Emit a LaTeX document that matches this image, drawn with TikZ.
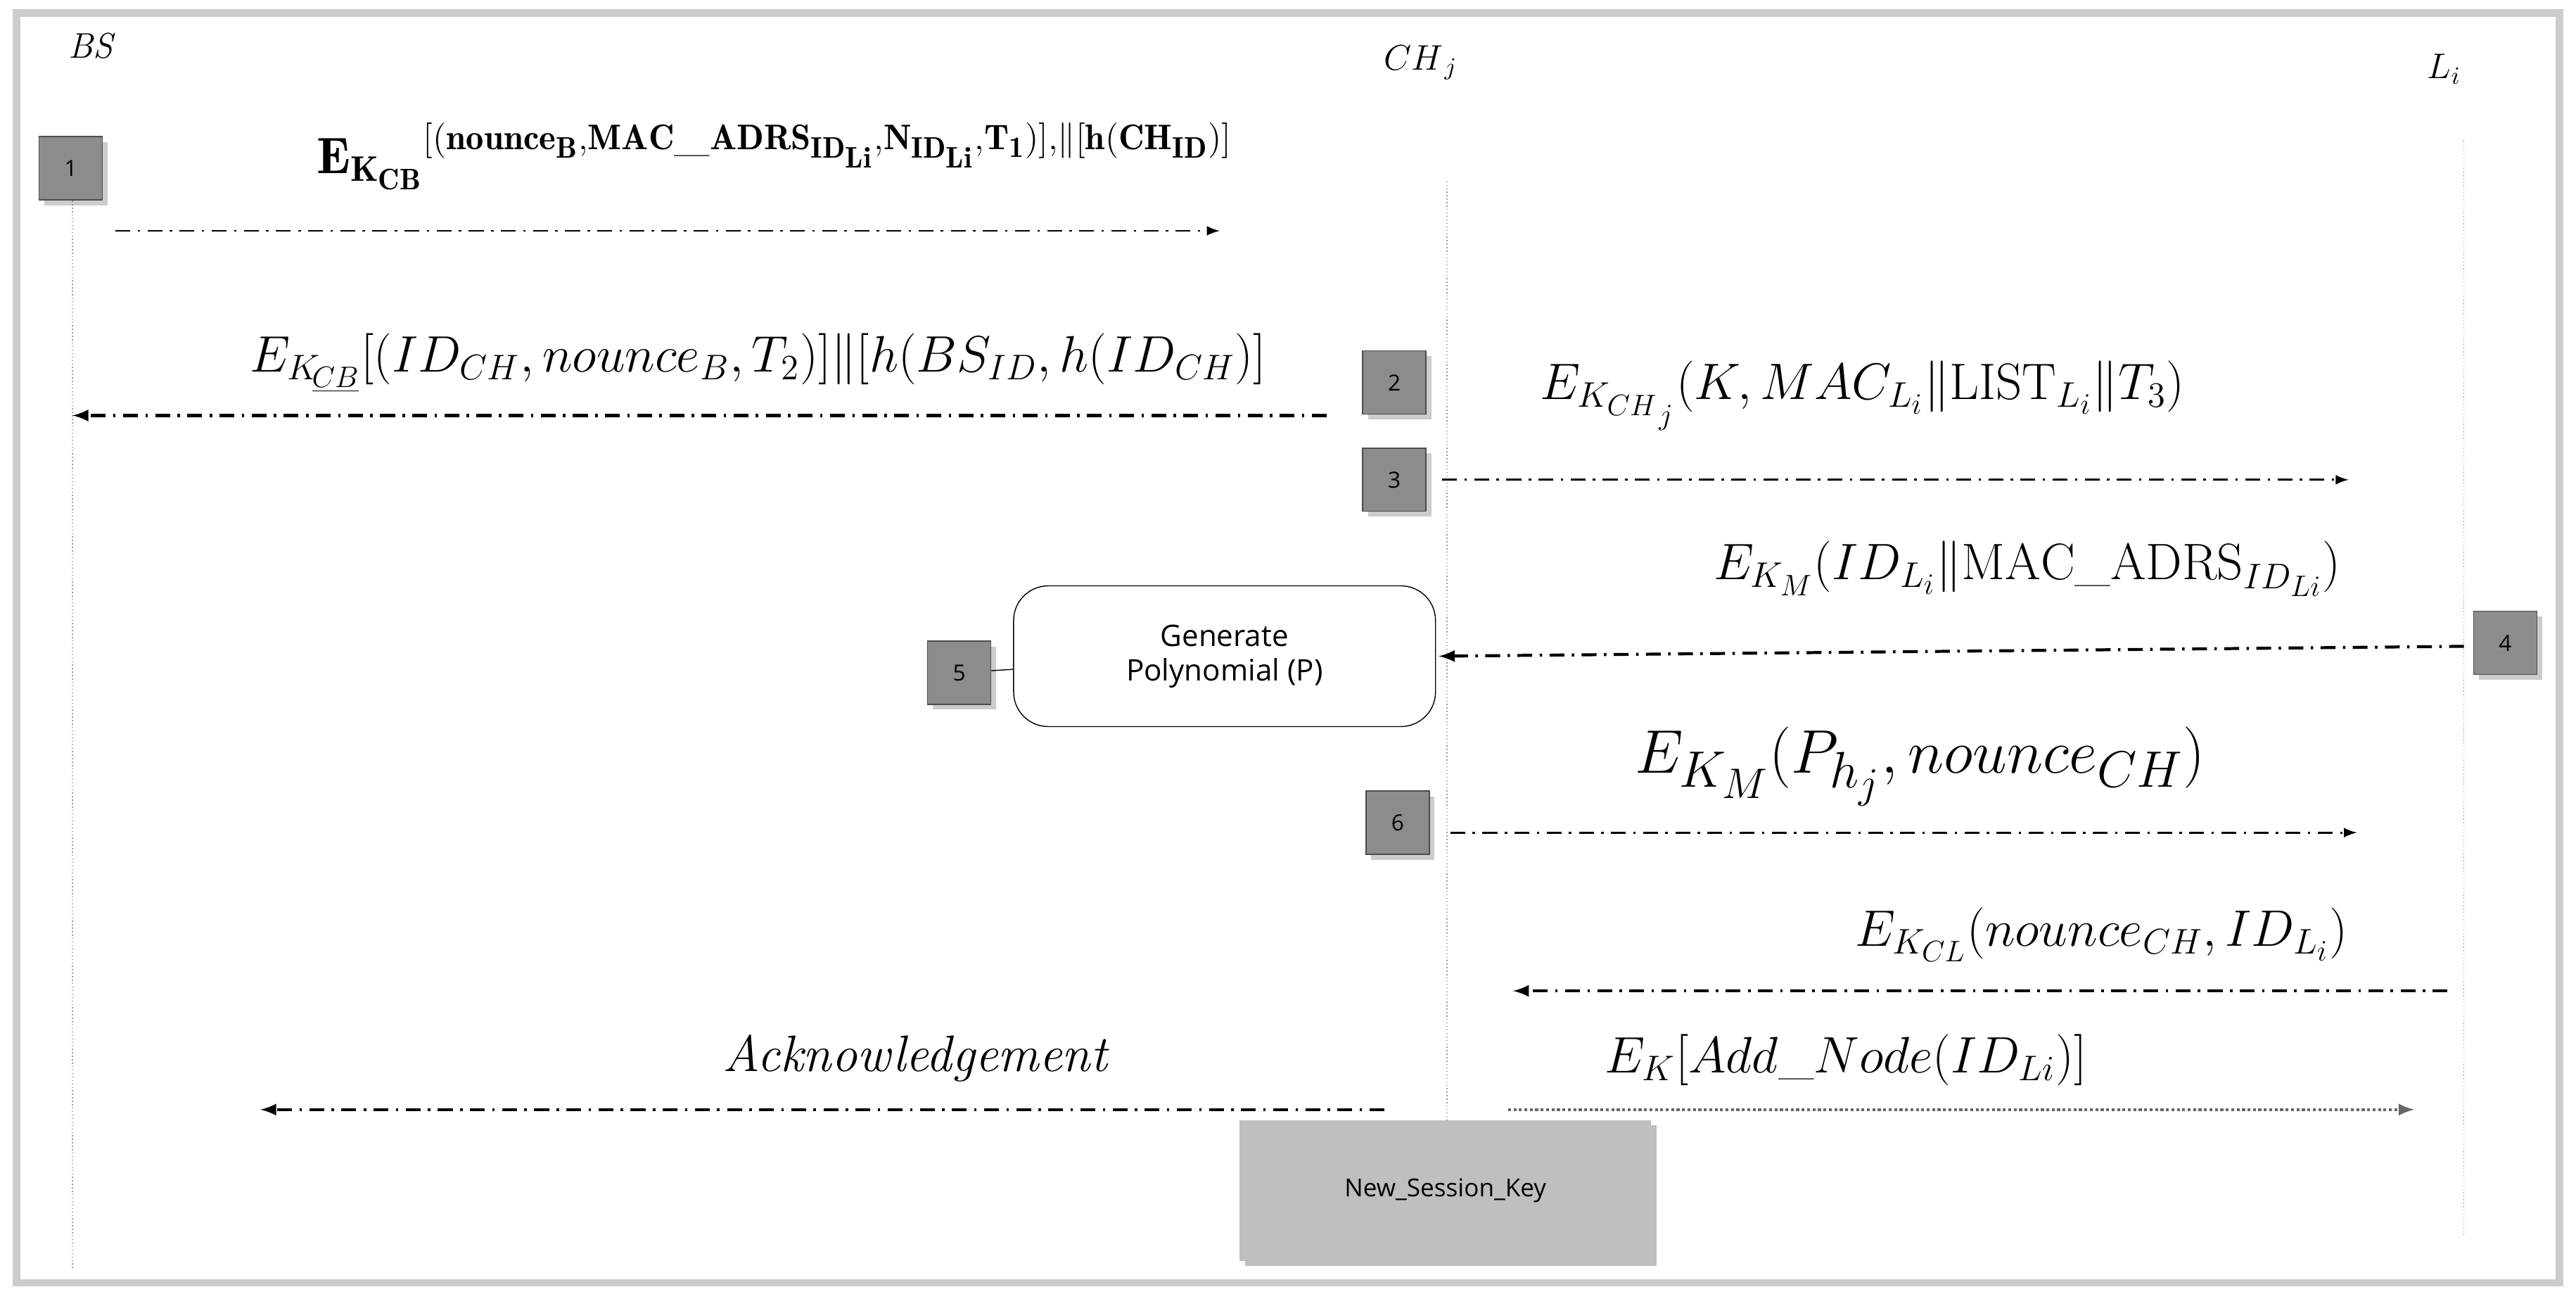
\documentclass[tikz,border=0pt]{standalone}
\usepackage{fontspec}
\newfontfamily\boxfont{Open Sans}
\usetikzlibrary{shadows}
\tikzset{
    stepbox/.style={draw=black!70,fill=black!45,minimum width=0.9cm,minimum height=0.9cm,font=\boxfont\small,drop shadow={opacity=0.4}},
    msg/.style={-latex,thick,dash pattern=on 6pt off 3pt on 1pt off 3pt},
    life/.style={black!40,densely dotted},
    lbl/.style={font=\Large,inner sep=0pt}
}
\begin{document}
\begin{tikzpicture}[x=0.02343cm,y=-0.02343cm]
            \useasboundingbox (0,0) rectangle (1563,795);
            \draw[black!20,line width=3pt] (10,8) rectangle (1553,778);
            % lifelines
            \node[font=\Large\itshape] (bs) at (55,28) {BS};
            \node[font=\Large] (ch) at (862,38) {$CH_{\,j}$};
            \node[font=\Large] (li) at (1483,42) {$L_i$};
            \coordinate (bsT) at (44,105); \coordinate (bsB) at (44,770);
            \coordinate (chT) at (878,110); \coordinate (chB) at (878,760);
            \coordinate (liT) at (1495,85); \coordinate (liB) at (1495,750);
            \draw[life] (bsT) -- (bsB);
            \draw[life] (chT) -- (chB);
            \draw[life] (liT) -- (liB);
            % steps
            \node[stepbox] (s1) at (43,102) {1};
            \node[stepbox] (s2) at (846,232) {2};
            \node[stepbox] (s3) at (846,291) {3};
            \node[stepbox] (s4) at (1520,390) {4};
            \node[stepbox] (s5) at (582,408) {5};
            \node[stepbox] (s6) at (848,499) {6};
            \node[draw,rounded corners=14pt,minimum width=6cm,minimum height=2cm,align=center,font=\boxfont\large] (poly) at (743,398) {Generate\\Polynomial (P)};
            \draw (s5) -- (poly);
            \node[fill=black!25,minimum width=5.85cm,minimum height=2cm,font=\boxfont,drop shadow={opacity=0.5}] (nsk) at (877,722) {New\_Session\_Key};
            % messages
            \coordinate (a1) at (70,140); \coordinate (b1) at (740,140);
            \draw[msg] (a1) -- (b1);
            \node[lbl,font=\huge] (m1) at (470,95) {$\mathbf{E_{K_{CB}}}^{\mathbf{[(nounce_B,MAC\_ADRS_{ID_{Li}},N_{ID_{Li}},T_1)],\|[h(CH_{ID})]}}$};
            \coordinate (a2) at (805,252); \coordinate (b2) at (44,252);
            \draw[msg,very thick] (a2) -- (b2);
            \node[lbl,font=\huge] (m2) at (460,220) {$E_{K_{\!\underline{CB}}}[(ID_{CH},nounce_B,T_2)]\|[h(BS_{ID},h(ID_{CH})]$};
            \coordinate (a3) at (875,291); \coordinate (b3) at (1425,291);
            \draw[msg] (a3) -- (b3);
            \node[lbl,font=\huge] (m3) at (1130,240) {$E_{K_{CH_{\,j}}}(K,MAC_{L_i}\|\mathrm{LIST}_{L_i}\|T_3)$};
            \coordinate (a4) at (1495,392); \coordinate (b4) at (873,398);
            \draw[msg,very thick] (a4) -- (b4);
            \node[lbl,font=\huge] (m4) at (1230,345) {$E_{K_M}(ID_{L_i}\|\mathrm{MAC\_ADRS}_{ID_{Li}})$};
            \coordinate (a6) at (880,505); \coordinate (b6) at (1430,505);
            \draw[msg] (a6) -- (b6);
            \node[lbl,font=\Huge] (m6) at (1165,465) {$E_{K_M}(P_{h_j},nounce_{CH})$};
            \coordinate (a7) at (1485,601); \coordinate (b7) at (918,601);
            \draw[msg,very thick] (a7) -- (b7);
            \node[lbl,font=\huge] (m7) at (1275,567) {$E_{K_{CL}}(nounce_{CH},ID_{L_i})$};
            \coordinate (a8) at (840,673); \coordinate (b8) at (158,673);
            \draw[msg,very thick] (a8) -- (b8);
            \node[lbl,font=\huge\itshape] (m8) at (555,642) {Acknowledgement};
            \coordinate (a9) at (915,673); \coordinate (b9) at (1465,673);
            \draw[-latex,very thick,black!60,densely dotted] (a9) -- (b9);
            \node[lbl,font=\huge] (m9) at (1120,643) {$E_K[Add\_Node(ID_{Li})]$};
\end{tikzpicture}
\end{document}
